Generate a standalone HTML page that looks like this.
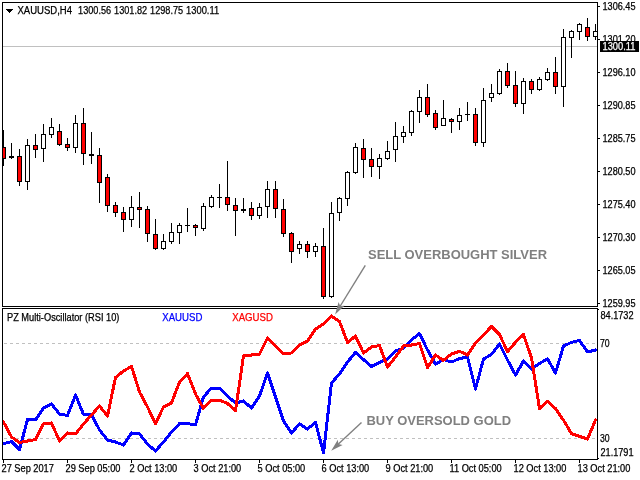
<!DOCTYPE html><html><head><meta charset="utf-8"><title>chart</title><style>
html,body{margin:0;padding:0;background:#fff;overflow:hidden}svg{display:block}
text{font-family:"Liberation Sans",sans-serif}svg{will-change:transform}
.t{font-size:10px;color:#000;fill:currentColor;stroke:currentColor;stroke-width:.25px}
.b{font-size:13px;font-weight:bold;fill:#808080}
</style></head><body>
<svg width="640" height="480" viewBox="0 0 640 480">
<rect width="640" height="480" fill="#fff"/>
<defs><clipPath id="cm"><rect x="3" y="3" width="594" height="303"/></clipPath><clipPath id="cs"><rect x="3" y="309" width="594" height="150"/></clipPath></defs>
<g shape-rendering="crispEdges">
<rect x="3" y="46" width="594" height="1" fill="#c0c0c0"/>
<g clip-path="url(#cm)">
<rect x="3" y="130" width="1" height="36" fill="#000"/>
<rect x="1" y="147" width="5" height="12" fill="#000"/>
<rect x="2" y="148" width="3" height="10" fill="#f00"/>
<rect x="11" y="143" width="1" height="16" fill="#000"/>
<rect x="9" y="156" width="5" height="2" fill="#000"/>
<rect x="19" y="149" width="1" height="37" fill="#000"/>
<rect x="17" y="156" width="5" height="26" fill="#000"/>
<rect x="18" y="157" width="3" height="24" fill="#f00"/>
<rect x="27" y="139" width="1" height="51" fill="#000"/>
<rect x="25" y="145" width="5" height="37" fill="#000"/>
<rect x="26" y="146" width="3" height="35" fill="#fff"/>
<rect x="35" y="134" width="1" height="24" fill="#000"/>
<rect x="33" y="145" width="5" height="5" fill="#000"/>
<rect x="34" y="146" width="3" height="3" fill="#f00"/>
<rect x="43" y="124" width="1" height="38" fill="#000"/>
<rect x="41" y="134" width="5" height="15" fill="#000"/>
<rect x="42" y="135" width="3" height="13" fill="#fff"/>
<rect x="51" y="118" width="1" height="20" fill="#000"/>
<rect x="49" y="127" width="5" height="8" fill="#000"/>
<rect x="50" y="128" width="3" height="6" fill="#fff"/>
<rect x="59" y="124" width="1" height="22" fill="#000"/>
<rect x="57" y="131" width="5" height="14" fill="#000"/>
<rect x="58" y="132" width="3" height="12" fill="#f00"/>
<rect x="67" y="138" width="1" height="13" fill="#000"/>
<rect x="65" y="144" width="5" height="4" fill="#000"/>
<rect x="66" y="145" width="3" height="2" fill="#f00"/>
<rect x="75" y="115" width="1" height="38" fill="#000"/>
<rect x="73" y="123" width="5" height="25" fill="#000"/>
<rect x="74" y="124" width="3" height="23" fill="#fff"/>
<rect x="83" y="108" width="1" height="57" fill="#000"/>
<rect x="81" y="123" width="5" height="31" fill="#000"/>
<rect x="82" y="124" width="3" height="29" fill="#f00"/>
<rect x="91" y="132" width="1" height="32" fill="#000"/>
<rect x="89" y="154" width="5" height="2" fill="#000"/>
<rect x="99" y="148" width="1" height="55" fill="#000"/>
<rect x="97" y="155" width="5" height="28" fill="#000"/>
<rect x="98" y="156" width="3" height="26" fill="#f00"/>
<rect x="107" y="174" width="1" height="38" fill="#000"/>
<rect x="105" y="177" width="5" height="29" fill="#000"/>
<rect x="106" y="178" width="3" height="27" fill="#f00"/>
<rect x="115" y="202" width="1" height="15" fill="#000"/>
<rect x="113" y="205" width="5" height="8" fill="#000"/>
<rect x="114" y="206" width="3" height="6" fill="#f00"/>
<rect x="123" y="207" width="1" height="25" fill="#000"/>
<rect x="121" y="212" width="5" height="8" fill="#000"/>
<rect x="122" y="213" width="3" height="6" fill="#f00"/>
<rect x="131" y="196" width="1" height="31" fill="#000"/>
<rect x="129" y="207" width="5" height="13" fill="#000"/>
<rect x="130" y="208" width="3" height="11" fill="#fff"/>
<rect x="139" y="192" width="1" height="36" fill="#000"/>
<rect x="137" y="207" width="5" height="3" fill="#000"/>
<rect x="138" y="208" width="3" height="1" fill="#f00"/>
<rect x="147" y="206" width="1" height="36" fill="#000"/>
<rect x="145" y="209" width="5" height="25" fill="#000"/>
<rect x="146" y="210" width="3" height="23" fill="#f00"/>
<rect x="155" y="219" width="1" height="31" fill="#000"/>
<rect x="153" y="234" width="5" height="15" fill="#000"/>
<rect x="154" y="235" width="3" height="13" fill="#f00"/>
<rect x="163" y="234" width="1" height="16" fill="#000"/>
<rect x="161" y="241" width="5" height="8" fill="#000"/>
<rect x="162" y="242" width="3" height="6" fill="#fff"/>
<rect x="171" y="223" width="1" height="21" fill="#000"/>
<rect x="169" y="232" width="5" height="10" fill="#000"/>
<rect x="170" y="233" width="3" height="8" fill="#fff"/>
<rect x="179" y="223" width="1" height="21" fill="#000"/>
<rect x="177" y="225" width="5" height="8" fill="#000"/>
<rect x="178" y="226" width="3" height="6" fill="#fff"/>
<rect x="187" y="208" width="1" height="24" fill="#000"/>
<rect x="185" y="225" width="5" height="1" fill="#000"/>
<rect x="195" y="224" width="1" height="12" fill="#000"/>
<rect x="193" y="225" width="5" height="3" fill="#000"/>
<rect x="194" y="226" width="3" height="1" fill="#f00"/>
<rect x="203" y="203" width="1" height="28" fill="#000"/>
<rect x="201" y="206" width="5" height="23" fill="#000"/>
<rect x="202" y="207" width="3" height="21" fill="#fff"/>
<rect x="211" y="195" width="1" height="13" fill="#000"/>
<rect x="209" y="197" width="5" height="10" fill="#000"/>
<rect x="210" y="198" width="3" height="8" fill="#fff"/>
<rect x="219" y="184" width="1" height="24" fill="#000"/>
<rect x="217" y="197" width="5" height="1" fill="#000"/>
<rect x="227" y="161" width="1" height="50" fill="#000"/>
<rect x="225" y="197" width="5" height="8" fill="#000"/>
<rect x="226" y="198" width="3" height="6" fill="#f00"/>
<rect x="235" y="198" width="1" height="38" fill="#000"/>
<rect x="233" y="205" width="5" height="6" fill="#000"/>
<rect x="234" y="206" width="3" height="4" fill="#f00"/>
<rect x="243" y="198" width="1" height="15" fill="#000"/>
<rect x="241" y="209" width="5" height="2" fill="#000"/>
<rect x="251" y="202" width="1" height="18" fill="#000"/>
<rect x="249" y="208" width="5" height="8" fill="#000"/>
<rect x="250" y="209" width="3" height="6" fill="#f00"/>
<rect x="259" y="203" width="1" height="16" fill="#000"/>
<rect x="257" y="207" width="5" height="9" fill="#000"/>
<rect x="258" y="208" width="3" height="7" fill="#fff"/>
<rect x="267" y="181" width="1" height="37" fill="#000"/>
<rect x="265" y="189" width="5" height="18" fill="#000"/>
<rect x="266" y="190" width="3" height="16" fill="#fff"/>
<rect x="275" y="181" width="1" height="37" fill="#000"/>
<rect x="273" y="189" width="5" height="20" fill="#000"/>
<rect x="274" y="190" width="3" height="18" fill="#f00"/>
<rect x="283" y="199" width="1" height="38" fill="#000"/>
<rect x="281" y="209" width="5" height="25" fill="#000"/>
<rect x="282" y="210" width="3" height="23" fill="#f00"/>
<rect x="291" y="232" width="1" height="31" fill="#000"/>
<rect x="289" y="233" width="5" height="19" fill="#000"/>
<rect x="290" y="234" width="3" height="17" fill="#f00"/>
<rect x="299" y="241" width="1" height="13" fill="#000"/>
<rect x="297" y="244" width="5" height="5" fill="#000"/>
<rect x="298" y="245" width="3" height="3" fill="#fff"/>
<rect x="307" y="241" width="1" height="17" fill="#000"/>
<rect x="305" y="244" width="5" height="8" fill="#000"/>
<rect x="306" y="245" width="3" height="6" fill="#f00"/>
<rect x="315" y="243" width="1" height="14" fill="#000"/>
<rect x="313" y="246" width="5" height="6" fill="#000"/>
<rect x="314" y="247" width="3" height="4" fill="#fff"/>
<rect x="323" y="228" width="1" height="71" fill="#000"/>
<rect x="321" y="246" width="5" height="51" fill="#000"/>
<rect x="322" y="247" width="3" height="49" fill="#f00"/>
<rect x="331" y="202" width="1" height="96" fill="#000"/>
<rect x="329" y="213" width="5" height="84" fill="#000"/>
<rect x="330" y="214" width="3" height="82" fill="#fff"/>
<rect x="339" y="197" width="1" height="24" fill="#000"/>
<rect x="337" y="198" width="5" height="15" fill="#000"/>
<rect x="338" y="199" width="3" height="13" fill="#fff"/>
<rect x="347" y="171" width="1" height="35" fill="#000"/>
<rect x="345" y="172" width="5" height="27" fill="#000"/>
<rect x="346" y="173" width="3" height="25" fill="#fff"/>
<rect x="355" y="143" width="1" height="31" fill="#000"/>
<rect x="353" y="147" width="5" height="26" fill="#000"/>
<rect x="354" y="148" width="3" height="24" fill="#fff"/>
<rect x="363" y="139" width="1" height="39" fill="#000"/>
<rect x="361" y="148" width="5" height="12" fill="#000"/>
<rect x="362" y="149" width="3" height="10" fill="#f00"/>
<rect x="371" y="148" width="1" height="29" fill="#000"/>
<rect x="369" y="159" width="5" height="8" fill="#000"/>
<rect x="370" y="160" width="3" height="6" fill="#f00"/>
<rect x="379" y="154" width="1" height="25" fill="#000"/>
<rect x="377" y="158" width="5" height="9" fill="#000"/>
<rect x="378" y="159" width="3" height="7" fill="#fff"/>
<rect x="387" y="141" width="1" height="19" fill="#000"/>
<rect x="385" y="151" width="5" height="8" fill="#000"/>
<rect x="386" y="152" width="3" height="6" fill="#fff"/>
<rect x="395" y="122" width="1" height="40" fill="#000"/>
<rect x="393" y="136" width="5" height="14" fill="#000"/>
<rect x="394" y="137" width="3" height="12" fill="#fff"/>
<rect x="403" y="126" width="1" height="17" fill="#000"/>
<rect x="401" y="132" width="5" height="5" fill="#000"/>
<rect x="402" y="133" width="3" height="3" fill="#fff"/>
<rect x="411" y="110" width="1" height="26" fill="#000"/>
<rect x="409" y="111" width="5" height="22" fill="#000"/>
<rect x="410" y="112" width="3" height="20" fill="#fff"/>
<rect x="419" y="90" width="1" height="33" fill="#000"/>
<rect x="417" y="97" width="5" height="15" fill="#000"/>
<rect x="418" y="98" width="3" height="13" fill="#fff"/>
<rect x="427" y="84" width="1" height="33" fill="#000"/>
<rect x="425" y="97" width="5" height="18" fill="#000"/>
<rect x="426" y="98" width="3" height="16" fill="#f00"/>
<rect x="435" y="110" width="1" height="20" fill="#000"/>
<rect x="433" y="113" width="5" height="15" fill="#000"/>
<rect x="434" y="114" width="3" height="13" fill="#f00"/>
<rect x="443" y="100" width="1" height="26" fill="#000"/>
<rect x="441" y="118" width="5" height="8" fill="#000"/>
<rect x="442" y="119" width="3" height="6" fill="#fff"/>
<rect x="451" y="118" width="1" height="15" fill="#000"/>
<rect x="449" y="119" width="5" height="3" fill="#000"/>
<rect x="450" y="120" width="3" height="1" fill="#f00"/>
<rect x="459" y="108" width="1" height="22" fill="#000"/>
<rect x="457" y="115" width="5" height="7" fill="#000"/>
<rect x="458" y="116" width="3" height="5" fill="#fff"/>
<rect x="467" y="102" width="1" height="19" fill="#000"/>
<rect x="465" y="114" width="5" height="1" fill="#000"/>
<rect x="475" y="108" width="1" height="38" fill="#000"/>
<rect x="473" y="114" width="5" height="29" fill="#000"/>
<rect x="474" y="115" width="3" height="27" fill="#f00"/>
<rect x="483" y="88" width="1" height="59" fill="#000"/>
<rect x="481" y="100" width="5" height="43" fill="#000"/>
<rect x="482" y="101" width="3" height="41" fill="#fff"/>
<rect x="491" y="84" width="1" height="18" fill="#000"/>
<rect x="489" y="93" width="5" height="5" fill="#000"/>
<rect x="490" y="94" width="3" height="3" fill="#fff"/>
<rect x="499" y="69" width="1" height="26" fill="#000"/>
<rect x="497" y="71" width="5" height="23" fill="#000"/>
<rect x="498" y="72" width="3" height="21" fill="#fff"/>
<rect x="507" y="63" width="1" height="25" fill="#000"/>
<rect x="505" y="71" width="5" height="15" fill="#000"/>
<rect x="506" y="72" width="3" height="13" fill="#f00"/>
<rect x="515" y="71" width="1" height="36" fill="#000"/>
<rect x="513" y="85" width="5" height="19" fill="#000"/>
<rect x="514" y="86" width="3" height="17" fill="#f00"/>
<rect x="523" y="78" width="1" height="36" fill="#000"/>
<rect x="521" y="81" width="5" height="23" fill="#000"/>
<rect x="522" y="82" width="3" height="21" fill="#fff"/>
<rect x="531" y="79" width="1" height="15" fill="#000"/>
<rect x="529" y="81" width="5" height="9" fill="#000"/>
<rect x="530" y="82" width="3" height="7" fill="#f00"/>
<rect x="539" y="77" width="1" height="14" fill="#000"/>
<rect x="537" y="79" width="5" height="11" fill="#000"/>
<rect x="538" y="80" width="3" height="9" fill="#fff"/>
<rect x="547" y="68" width="1" height="13" fill="#000"/>
<rect x="545" y="72" width="5" height="8" fill="#000"/>
<rect x="546" y="73" width="3" height="6" fill="#fff"/>
<rect x="555" y="57" width="1" height="37" fill="#000"/>
<rect x="553" y="72" width="5" height="15" fill="#000"/>
<rect x="554" y="73" width="3" height="13" fill="#f00"/>
<rect x="563" y="29" width="1" height="78" fill="#000"/>
<rect x="561" y="37" width="5" height="50" fill="#000"/>
<rect x="562" y="38" width="3" height="48" fill="#fff"/>
<rect x="571" y="30" width="1" height="28" fill="#000"/>
<rect x="569" y="31" width="5" height="7" fill="#000"/>
<rect x="570" y="32" width="3" height="5" fill="#fff"/>
<rect x="579" y="23" width="1" height="17" fill="#000"/>
<rect x="577" y="24" width="5" height="8" fill="#000"/>
<rect x="578" y="25" width="3" height="6" fill="#fff"/>
<rect x="587" y="18" width="1" height="23" fill="#000"/>
<rect x="585" y="27" width="5" height="10" fill="#000"/>
<rect x="586" y="28" width="3" height="8" fill="#f00"/>
<rect x="595" y="24" width="1" height="16" fill="#000"/>
<rect x="593" y="31" width="5" height="6" fill="#000"/>
<rect x="594" y="32" width="3" height="4" fill="#fff"/>
</g>
<rect x="2" y="2" width="596" height="1" fill="#000"/>
<rect x="2" y="2" width="1" height="305" fill="#000"/>
<rect x="597" y="2" width="1" height="305" fill="#000"/>
<rect x="2" y="306" width="596" height="1" fill="#000"/>
<rect x="2" y="308" width="596" height="1" fill="#000"/>
<rect x="2" y="308" width="1" height="152" fill="#000"/>
<rect x="597" y="308" width="1" height="152" fill="#000"/>
<rect x="2" y="459" width="596" height="1" fill="#000"/>
<rect x="598" y="6" width="2" height="1" fill="#000"/>
<rect x="598" y="39" width="2" height="1" fill="#000"/>
<rect x="598" y="72" width="2" height="1" fill="#000"/>
<rect x="598" y="105" width="2" height="1" fill="#000"/>
<rect x="598" y="138" width="2" height="1" fill="#000"/>
<rect x="598" y="171" width="2" height="1" fill="#000"/>
<rect x="598" y="204" width="2" height="1" fill="#000"/>
<rect x="598" y="237" width="2" height="1" fill="#000"/>
<rect x="598" y="270" width="2" height="1" fill="#000"/>
<rect x="598" y="303" width="2" height="1" fill="#000"/>
<rect x="598" y="309" width="1" height="1" fill="#000"/>
<rect x="598" y="458" width="1" height="1" fill="#000"/>
<rect x="3" y="460" width="1" height="3" fill="#000"/>
<rect x="67" y="460" width="1" height="3" fill="#000"/>
<rect x="131" y="460" width="1" height="3" fill="#000"/>
<rect x="195" y="460" width="1" height="3" fill="#000"/>
<rect x="259" y="460" width="1" height="3" fill="#000"/>
<rect x="323" y="460" width="1" height="3" fill="#000"/>
<rect x="387" y="460" width="1" height="3" fill="#000"/>
<rect x="451" y="460" width="1" height="3" fill="#000"/>
<rect x="515" y="460" width="1" height="3" fill="#000"/>
<rect x="579" y="460" width="1" height="3" fill="#000"/>
<rect x="4" y="343" width="3" height="1" fill="#c0c0c0"/>
<rect x="10" y="343" width="3" height="1" fill="#c0c0c0"/>
<rect x="16" y="343" width="3" height="1" fill="#c0c0c0"/>
<rect x="22" y="343" width="3" height="1" fill="#c0c0c0"/>
<rect x="28" y="343" width="3" height="1" fill="#c0c0c0"/>
<rect x="34" y="343" width="3" height="1" fill="#c0c0c0"/>
<rect x="40" y="343" width="3" height="1" fill="#c0c0c0"/>
<rect x="46" y="343" width="3" height="1" fill="#c0c0c0"/>
<rect x="52" y="343" width="3" height="1" fill="#c0c0c0"/>
<rect x="58" y="343" width="3" height="1" fill="#c0c0c0"/>
<rect x="64" y="343" width="3" height="1" fill="#c0c0c0"/>
<rect x="70" y="343" width="3" height="1" fill="#c0c0c0"/>
<rect x="76" y="343" width="3" height="1" fill="#c0c0c0"/>
<rect x="82" y="343" width="3" height="1" fill="#c0c0c0"/>
<rect x="88" y="343" width="3" height="1" fill="#c0c0c0"/>
<rect x="94" y="343" width="3" height="1" fill="#c0c0c0"/>
<rect x="100" y="343" width="3" height="1" fill="#c0c0c0"/>
<rect x="106" y="343" width="3" height="1" fill="#c0c0c0"/>
<rect x="112" y="343" width="3" height="1" fill="#c0c0c0"/>
<rect x="118" y="343" width="3" height="1" fill="#c0c0c0"/>
<rect x="124" y="343" width="3" height="1" fill="#c0c0c0"/>
<rect x="130" y="343" width="3" height="1" fill="#c0c0c0"/>
<rect x="136" y="343" width="3" height="1" fill="#c0c0c0"/>
<rect x="142" y="343" width="3" height="1" fill="#c0c0c0"/>
<rect x="148" y="343" width="3" height="1" fill="#c0c0c0"/>
<rect x="154" y="343" width="3" height="1" fill="#c0c0c0"/>
<rect x="160" y="343" width="3" height="1" fill="#c0c0c0"/>
<rect x="166" y="343" width="3" height="1" fill="#c0c0c0"/>
<rect x="172" y="343" width="3" height="1" fill="#c0c0c0"/>
<rect x="178" y="343" width="3" height="1" fill="#c0c0c0"/>
<rect x="184" y="343" width="3" height="1" fill="#c0c0c0"/>
<rect x="190" y="343" width="3" height="1" fill="#c0c0c0"/>
<rect x="196" y="343" width="3" height="1" fill="#c0c0c0"/>
<rect x="202" y="343" width="3" height="1" fill="#c0c0c0"/>
<rect x="208" y="343" width="3" height="1" fill="#c0c0c0"/>
<rect x="214" y="343" width="3" height="1" fill="#c0c0c0"/>
<rect x="220" y="343" width="3" height="1" fill="#c0c0c0"/>
<rect x="226" y="343" width="3" height="1" fill="#c0c0c0"/>
<rect x="232" y="343" width="3" height="1" fill="#c0c0c0"/>
<rect x="238" y="343" width="3" height="1" fill="#c0c0c0"/>
<rect x="244" y="343" width="3" height="1" fill="#c0c0c0"/>
<rect x="250" y="343" width="3" height="1" fill="#c0c0c0"/>
<rect x="256" y="343" width="3" height="1" fill="#c0c0c0"/>
<rect x="262" y="343" width="3" height="1" fill="#c0c0c0"/>
<rect x="268" y="343" width="3" height="1" fill="#c0c0c0"/>
<rect x="274" y="343" width="3" height="1" fill="#c0c0c0"/>
<rect x="280" y="343" width="3" height="1" fill="#c0c0c0"/>
<rect x="286" y="343" width="3" height="1" fill="#c0c0c0"/>
<rect x="292" y="343" width="3" height="1" fill="#c0c0c0"/>
<rect x="298" y="343" width="3" height="1" fill="#c0c0c0"/>
<rect x="304" y="343" width="3" height="1" fill="#c0c0c0"/>
<rect x="310" y="343" width="3" height="1" fill="#c0c0c0"/>
<rect x="316" y="343" width="3" height="1" fill="#c0c0c0"/>
<rect x="322" y="343" width="3" height="1" fill="#c0c0c0"/>
<rect x="328" y="343" width="3" height="1" fill="#c0c0c0"/>
<rect x="334" y="343" width="3" height="1" fill="#c0c0c0"/>
<rect x="340" y="343" width="3" height="1" fill="#c0c0c0"/>
<rect x="346" y="343" width="3" height="1" fill="#c0c0c0"/>
<rect x="352" y="343" width="3" height="1" fill="#c0c0c0"/>
<rect x="358" y="343" width="3" height="1" fill="#c0c0c0"/>
<rect x="364" y="343" width="3" height="1" fill="#c0c0c0"/>
<rect x="370" y="343" width="3" height="1" fill="#c0c0c0"/>
<rect x="376" y="343" width="3" height="1" fill="#c0c0c0"/>
<rect x="382" y="343" width="3" height="1" fill="#c0c0c0"/>
<rect x="388" y="343" width="3" height="1" fill="#c0c0c0"/>
<rect x="394" y="343" width="3" height="1" fill="#c0c0c0"/>
<rect x="400" y="343" width="3" height="1" fill="#c0c0c0"/>
<rect x="406" y="343" width="3" height="1" fill="#c0c0c0"/>
<rect x="412" y="343" width="3" height="1" fill="#c0c0c0"/>
<rect x="418" y="343" width="3" height="1" fill="#c0c0c0"/>
<rect x="424" y="343" width="3" height="1" fill="#c0c0c0"/>
<rect x="430" y="343" width="3" height="1" fill="#c0c0c0"/>
<rect x="436" y="343" width="3" height="1" fill="#c0c0c0"/>
<rect x="442" y="343" width="3" height="1" fill="#c0c0c0"/>
<rect x="448" y="343" width="3" height="1" fill="#c0c0c0"/>
<rect x="454" y="343" width="3" height="1" fill="#c0c0c0"/>
<rect x="460" y="343" width="3" height="1" fill="#c0c0c0"/>
<rect x="466" y="343" width="3" height="1" fill="#c0c0c0"/>
<rect x="472" y="343" width="3" height="1" fill="#c0c0c0"/>
<rect x="478" y="343" width="3" height="1" fill="#c0c0c0"/>
<rect x="484" y="343" width="3" height="1" fill="#c0c0c0"/>
<rect x="490" y="343" width="3" height="1" fill="#c0c0c0"/>
<rect x="496" y="343" width="3" height="1" fill="#c0c0c0"/>
<rect x="502" y="343" width="3" height="1" fill="#c0c0c0"/>
<rect x="508" y="343" width="3" height="1" fill="#c0c0c0"/>
<rect x="514" y="343" width="3" height="1" fill="#c0c0c0"/>
<rect x="520" y="343" width="3" height="1" fill="#c0c0c0"/>
<rect x="526" y="343" width="3" height="1" fill="#c0c0c0"/>
<rect x="532" y="343" width="3" height="1" fill="#c0c0c0"/>
<rect x="538" y="343" width="3" height="1" fill="#c0c0c0"/>
<rect x="544" y="343" width="3" height="1" fill="#c0c0c0"/>
<rect x="550" y="343" width="3" height="1" fill="#c0c0c0"/>
<rect x="556" y="343" width="3" height="1" fill="#c0c0c0"/>
<rect x="562" y="343" width="3" height="1" fill="#c0c0c0"/>
<rect x="568" y="343" width="3" height="1" fill="#c0c0c0"/>
<rect x="574" y="343" width="3" height="1" fill="#c0c0c0"/>
<rect x="580" y="343" width="3" height="1" fill="#c0c0c0"/>
<rect x="586" y="343" width="3" height="1" fill="#c0c0c0"/>
<rect x="592" y="343" width="3" height="1" fill="#c0c0c0"/>
<rect x="4" y="438" width="3" height="1" fill="#c0c0c0"/>
<rect x="10" y="438" width="3" height="1" fill="#c0c0c0"/>
<rect x="16" y="438" width="3" height="1" fill="#c0c0c0"/>
<rect x="22" y="438" width="3" height="1" fill="#c0c0c0"/>
<rect x="28" y="438" width="3" height="1" fill="#c0c0c0"/>
<rect x="34" y="438" width="3" height="1" fill="#c0c0c0"/>
<rect x="40" y="438" width="3" height="1" fill="#c0c0c0"/>
<rect x="46" y="438" width="3" height="1" fill="#c0c0c0"/>
<rect x="52" y="438" width="3" height="1" fill="#c0c0c0"/>
<rect x="58" y="438" width="3" height="1" fill="#c0c0c0"/>
<rect x="64" y="438" width="3" height="1" fill="#c0c0c0"/>
<rect x="70" y="438" width="3" height="1" fill="#c0c0c0"/>
<rect x="76" y="438" width="3" height="1" fill="#c0c0c0"/>
<rect x="82" y="438" width="3" height="1" fill="#c0c0c0"/>
<rect x="88" y="438" width="3" height="1" fill="#c0c0c0"/>
<rect x="94" y="438" width="3" height="1" fill="#c0c0c0"/>
<rect x="100" y="438" width="3" height="1" fill="#c0c0c0"/>
<rect x="106" y="438" width="3" height="1" fill="#c0c0c0"/>
<rect x="112" y="438" width="3" height="1" fill="#c0c0c0"/>
<rect x="118" y="438" width="3" height="1" fill="#c0c0c0"/>
<rect x="124" y="438" width="3" height="1" fill="#c0c0c0"/>
<rect x="130" y="438" width="3" height="1" fill="#c0c0c0"/>
<rect x="136" y="438" width="3" height="1" fill="#c0c0c0"/>
<rect x="142" y="438" width="3" height="1" fill="#c0c0c0"/>
<rect x="148" y="438" width="3" height="1" fill="#c0c0c0"/>
<rect x="154" y="438" width="3" height="1" fill="#c0c0c0"/>
<rect x="160" y="438" width="3" height="1" fill="#c0c0c0"/>
<rect x="166" y="438" width="3" height="1" fill="#c0c0c0"/>
<rect x="172" y="438" width="3" height="1" fill="#c0c0c0"/>
<rect x="178" y="438" width="3" height="1" fill="#c0c0c0"/>
<rect x="184" y="438" width="3" height="1" fill="#c0c0c0"/>
<rect x="190" y="438" width="3" height="1" fill="#c0c0c0"/>
<rect x="196" y="438" width="3" height="1" fill="#c0c0c0"/>
<rect x="202" y="438" width="3" height="1" fill="#c0c0c0"/>
<rect x="208" y="438" width="3" height="1" fill="#c0c0c0"/>
<rect x="214" y="438" width="3" height="1" fill="#c0c0c0"/>
<rect x="220" y="438" width="3" height="1" fill="#c0c0c0"/>
<rect x="226" y="438" width="3" height="1" fill="#c0c0c0"/>
<rect x="232" y="438" width="3" height="1" fill="#c0c0c0"/>
<rect x="238" y="438" width="3" height="1" fill="#c0c0c0"/>
<rect x="244" y="438" width="3" height="1" fill="#c0c0c0"/>
<rect x="250" y="438" width="3" height="1" fill="#c0c0c0"/>
<rect x="256" y="438" width="3" height="1" fill="#c0c0c0"/>
<rect x="262" y="438" width="3" height="1" fill="#c0c0c0"/>
<rect x="268" y="438" width="3" height="1" fill="#c0c0c0"/>
<rect x="274" y="438" width="3" height="1" fill="#c0c0c0"/>
<rect x="280" y="438" width="3" height="1" fill="#c0c0c0"/>
<rect x="286" y="438" width="3" height="1" fill="#c0c0c0"/>
<rect x="292" y="438" width="3" height="1" fill="#c0c0c0"/>
<rect x="298" y="438" width="3" height="1" fill="#c0c0c0"/>
<rect x="304" y="438" width="3" height="1" fill="#c0c0c0"/>
<rect x="310" y="438" width="3" height="1" fill="#c0c0c0"/>
<rect x="316" y="438" width="3" height="1" fill="#c0c0c0"/>
<rect x="322" y="438" width="3" height="1" fill="#c0c0c0"/>
<rect x="328" y="438" width="3" height="1" fill="#c0c0c0"/>
<rect x="334" y="438" width="3" height="1" fill="#c0c0c0"/>
<rect x="340" y="438" width="3" height="1" fill="#c0c0c0"/>
<rect x="346" y="438" width="3" height="1" fill="#c0c0c0"/>
<rect x="352" y="438" width="3" height="1" fill="#c0c0c0"/>
<rect x="358" y="438" width="3" height="1" fill="#c0c0c0"/>
<rect x="364" y="438" width="3" height="1" fill="#c0c0c0"/>
<rect x="370" y="438" width="3" height="1" fill="#c0c0c0"/>
<rect x="376" y="438" width="3" height="1" fill="#c0c0c0"/>
<rect x="382" y="438" width="3" height="1" fill="#c0c0c0"/>
<rect x="388" y="438" width="3" height="1" fill="#c0c0c0"/>
<rect x="394" y="438" width="3" height="1" fill="#c0c0c0"/>
<rect x="400" y="438" width="3" height="1" fill="#c0c0c0"/>
<rect x="406" y="438" width="3" height="1" fill="#c0c0c0"/>
<rect x="412" y="438" width="3" height="1" fill="#c0c0c0"/>
<rect x="418" y="438" width="3" height="1" fill="#c0c0c0"/>
<rect x="424" y="438" width="3" height="1" fill="#c0c0c0"/>
<rect x="430" y="438" width="3" height="1" fill="#c0c0c0"/>
<rect x="436" y="438" width="3" height="1" fill="#c0c0c0"/>
<rect x="442" y="438" width="3" height="1" fill="#c0c0c0"/>
<rect x="448" y="438" width="3" height="1" fill="#c0c0c0"/>
<rect x="454" y="438" width="3" height="1" fill="#c0c0c0"/>
<rect x="460" y="438" width="3" height="1" fill="#c0c0c0"/>
<rect x="466" y="438" width="3" height="1" fill="#c0c0c0"/>
<rect x="472" y="438" width="3" height="1" fill="#c0c0c0"/>
<rect x="478" y="438" width="3" height="1" fill="#c0c0c0"/>
<rect x="484" y="438" width="3" height="1" fill="#c0c0c0"/>
<rect x="490" y="438" width="3" height="1" fill="#c0c0c0"/>
<rect x="496" y="438" width="3" height="1" fill="#c0c0c0"/>
<rect x="502" y="438" width="3" height="1" fill="#c0c0c0"/>
<rect x="508" y="438" width="3" height="1" fill="#c0c0c0"/>
<rect x="514" y="438" width="3" height="1" fill="#c0c0c0"/>
<rect x="520" y="438" width="3" height="1" fill="#c0c0c0"/>
<rect x="526" y="438" width="3" height="1" fill="#c0c0c0"/>
<rect x="532" y="438" width="3" height="1" fill="#c0c0c0"/>
<rect x="538" y="438" width="3" height="1" fill="#c0c0c0"/>
<rect x="544" y="438" width="3" height="1" fill="#c0c0c0"/>
<rect x="550" y="438" width="3" height="1" fill="#c0c0c0"/>
<rect x="556" y="438" width="3" height="1" fill="#c0c0c0"/>
<rect x="562" y="438" width="3" height="1" fill="#c0c0c0"/>
<rect x="568" y="438" width="3" height="1" fill="#c0c0c0"/>
<rect x="574" y="438" width="3" height="1" fill="#c0c0c0"/>
<rect x="580" y="438" width="3" height="1" fill="#c0c0c0"/>
<rect x="586" y="438" width="3" height="1" fill="#c0c0c0"/>
<rect x="592" y="438" width="3" height="1" fill="#c0c0c0"/>
<rect x="6" y="9" width="7" height="1" fill="#000"/>
<rect x="7" y="10" width="5" height="1" fill="#000"/>
<rect x="8" y="11" width="3" height="1" fill="#000"/>
<rect x="9" y="12" width="1" height="1" fill="#000"/>
<rect x="600" y="41" width="39" height="11" fill="#000"/>
</g>
<g clip-path="url(#cs)">
<polyline points="3.5,443.6 11.5,441.6 19.5,449.6 27.5,419.6 35.5,420.0 43.5,408.0 51.5,404.0 59.5,414.0 67.5,415.5 75.5,395.0 83.5,414.4 91.5,414.4 99.5,430.0 107.5,440.0 115.5,442.0 123.5,445.0 131.5,433.0 139.5,434.0 147.5,444.0 155.5,451.0 163.5,442.0 171.5,432.0 179.5,423.6 187.5,423.6 195.5,425.0 203.5,397.0 211.5,388.0 219.5,388.0 227.5,396.0 235.5,403.0 243.5,401.0 251.5,408.0 259.5,396.0 267.5,373.0 275.5,397.0 283.5,421.0 291.5,433.0 299.5,424.0 307.5,429.0 315.5,422.4 323.5,453.0 331.5,383.0 339.5,374.0 347.5,362.0 355.5,352.4 363.5,359.6 371.5,366.4 379.5,362.4 387.5,359.0 395.5,351.0 403.5,348.0 411.5,340.0 419.5,333.6 427.5,350.0 435.5,364.0 443.5,359.6 451.5,362.0 459.5,358.6 467.5,357.0 475.5,389.0 483.5,359.0 491.5,354.4 499.5,344.0 507.5,360.0 515.5,375.0 523.5,361.0 531.5,369.0 539.5,363.5 547.5,358.7 555.5,373.0 563.5,346.0 571.5,342.4 579.5,340.4 587.5,352.0 595.5,350.0" fill="none" stroke="#00f" stroke-width="3" stroke-linejoin="round" stroke-linecap="round" shape-rendering="crispEdges"/>
<polyline points="3.5,422.0 11.5,437.0 19.5,442.4 27.5,441.0 35.5,439.6 43.5,423.6 51.5,423.0 59.5,441.0 67.5,433.0 75.5,434.0 83.5,424.0 91.5,415.0 99.5,406.0 107.5,416.0 115.5,377.5 123.5,371.0 131.5,366.4 139.5,392.0 147.5,407.0 155.5,423.6 163.5,407.0 171.5,403.0 179.5,382.0 187.5,373.6 195.5,394.0 203.5,408.4 211.5,400.0 219.5,400.0 227.5,403.5 235.5,410.7 243.5,356.0 251.5,355.0 259.5,354.0 267.5,338.0 275.5,346.0 283.5,353.6 291.5,353.0 299.5,345.0 307.5,341.0 315.5,329.0 323.5,324.0 331.5,316.0 339.5,321.5 347.5,342.5 355.5,336.0 363.5,353.0 371.5,347.0 379.5,345.6 387.5,367.0 395.5,357.0 403.5,346.0 411.5,345.0 419.5,343.6 427.5,367.6 435.5,355.0 443.5,360.4 451.5,354.0 459.5,351.3 467.5,355.0 475.5,343.0 483.5,335.0 491.5,326.4 499.5,334.5 507.5,351.6 515.5,342.2 523.5,334.5 531.5,358.0 539.5,408.6 547.5,401.2 555.5,408.6 563.5,420.2 571.5,433.6 579.5,436.4 587.5,439.0 595.5,420.0" fill="none" stroke="#f00" stroke-width="3" stroke-linejoin="round" stroke-linecap="round" shape-rendering="crispEdges"/>
</g>
<text class="t" x="17.50" y="13.75" textLength="54.50" lengthAdjust="spacingAndGlyphs">XAUUSD,H4</text>
<text class="t" x="78.10" y="13.75" textLength="33.00" lengthAdjust="spacingAndGlyphs">1300.56</text>
<text class="t" x="114.10" y="13.75" textLength="33.00" lengthAdjust="spacingAndGlyphs">1301.82</text>
<text class="t" x="150.10" y="13.75" textLength="33.00" lengthAdjust="spacingAndGlyphs">1298.75</text>
<text class="t" x="186.10" y="13.75" textLength="33.00" lengthAdjust="spacingAndGlyphs">1300.11</text>
<text class="t" x="602.50" y="9.75" textLength="33.00" lengthAdjust="spacingAndGlyphs">1306.45</text>
<text class="t" x="602.50" y="42.75" textLength="33.00" lengthAdjust="spacingAndGlyphs">1301.20</text>
<text class="t" x="602.50" y="75.75" textLength="33.00" lengthAdjust="spacingAndGlyphs">1296.10</text>
<text class="t" x="602.50" y="108.75" textLength="33.00" lengthAdjust="spacingAndGlyphs">1290.85</text>
<text class="t" x="602.50" y="141.75" textLength="33.00" lengthAdjust="spacingAndGlyphs">1285.75</text>
<text class="t" x="602.50" y="174.75" textLength="33.00" lengthAdjust="spacingAndGlyphs">1280.50</text>
<text class="t" x="602.50" y="207.75" textLength="33.00" lengthAdjust="spacingAndGlyphs">1275.40</text>
<text class="t" x="602.50" y="240.75" textLength="33.00" lengthAdjust="spacingAndGlyphs">1270.30</text>
<text class="t" x="602.50" y="273.75" textLength="33.00" lengthAdjust="spacingAndGlyphs">1265.05</text>
<text class="t" x="602.50" y="306.75" textLength="33.00" lengthAdjust="spacingAndGlyphs">1259.95</text>
<rect x="600" y="41" width="39" height="11" fill="#000" shape-rendering="crispEdges"/>
<text class="t" x="602.50" y="49.75" textLength="33.00" lengthAdjust="spacingAndGlyphs" style="color:#fff">1300.11</text>
<text class="t" x="7.00" y="320.75" textLength="112.40" lengthAdjust="spacingAndGlyphs">PZ Multi-Oscillator (RSI 10)</text>
<text class="t" x="162.30" y="320.75" textLength="40.05" lengthAdjust="spacingAndGlyphs" style="color:#00f">XAUUSD</text>
<text class="t" x="232.30" y="320.75" textLength="40.58" lengthAdjust="spacingAndGlyphs" style="color:#f00">XAGUSD</text>
<text class="t" x="600.50" y="318.75" textLength="33.05" lengthAdjust="spacingAndGlyphs">84.1732</text>
<text class="t" x="600.00" y="346.75" textLength="9.65" lengthAdjust="spacingAndGlyphs">70</text>
<text class="t" x="600.00" y="441.75" textLength="9.65" lengthAdjust="spacingAndGlyphs">30</text>
<text class="t" x="600.50" y="455.75" textLength="33.05" lengthAdjust="spacingAndGlyphs">21.1791</text>
<text class="t" x="1.50" y="471.75" textLength="52.39" lengthAdjust="spacingAndGlyphs">27 Sep 2017</text>
<text class="t" x="65.50" y="471.75" textLength="54.96" lengthAdjust="spacingAndGlyphs">29 Sep 05:00</text>
<text class="t" x="129.50" y="471.75" textLength="47.75" lengthAdjust="spacingAndGlyphs">2 Oct 13:00</text>
<text class="t" x="193.50" y="471.75" textLength="47.75" lengthAdjust="spacingAndGlyphs">3 Oct 21:00</text>
<text class="t" x="257.50" y="471.75" textLength="47.75" lengthAdjust="spacingAndGlyphs">5 Oct 05:00</text>
<text class="t" x="321.50" y="471.75" textLength="47.75" lengthAdjust="spacingAndGlyphs">6 Oct 13:00</text>
<text class="t" x="385.50" y="471.75" textLength="47.75" lengthAdjust="spacingAndGlyphs">9 Oct 21:00</text>
<text class="t" x="449.50" y="471.75" textLength="52.20" lengthAdjust="spacingAndGlyphs">11 Oct 05:00</text>
<text class="t" x="513.50" y="471.75" textLength="52.89" lengthAdjust="spacingAndGlyphs">12 Oct 13:00</text>
<text class="t" x="577.50" y="471.75" textLength="52.89" lengthAdjust="spacingAndGlyphs">13 Oct 21:00</text>
<text class="b" x="368" y="258.5" textLength="179" lengthAdjust="spacingAndGlyphs">SELL OVERBOUGHT SILVER</text>
<text class="b" x="366.5" y="425.1" textLength="144.5" lengthAdjust="spacingAndGlyphs">BUY OVERSOLD GOLD</text>
<line x1="365.3" y1="265.3" x2="337.2" y2="311.0" stroke="#808080" stroke-width="1.4"/><polygon points="335.1,314.4 338.6,302.1 340.2,306.1 344.5,305.8" fill="#808080"/>
<line x1="361.5" y1="422.5" x2="334.1" y2="448.1" stroke="#808080" stroke-width="1.4"/><polygon points="331.2,450.8 337.8,439.8 338.4,444.1 342.6,445.0" fill="#808080"/>
</svg></body></html>
